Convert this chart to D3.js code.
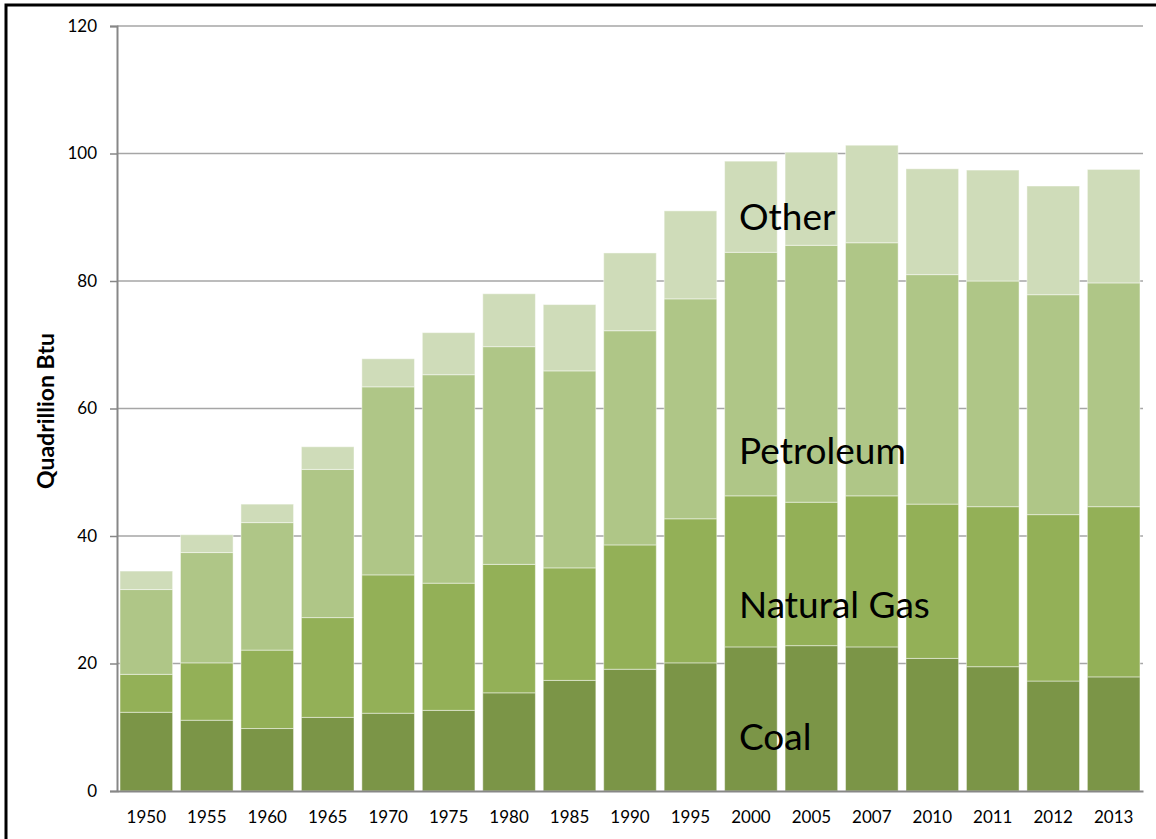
<!DOCTYPE html>
<html>
<head>
<meta charset="utf-8">
<script src="https://cdn.jsdelivr.net/npm/d3@7"></script>
<style>
body{margin:0;background:#fff;}
svg{display:block;font-family:Lato,"Open Sans",sans-serif;}
</style>
</head>
<body>
<svg id="chart" width="1156" height="839"></svg>
<script>
// years and the four fuel series (quadrillion Btu)
let years=["1950","1955","1960","1965","1970","1975","1980","1985","1990","1995","2000","2005","2007","2010","2011","2012","2013"];
let coal=[12.35,11.1,9.8,11.55,12.2,12.65,15.4,17.35,19.1,20.1,22.6,22.8,22.6,20.8,19.5,17.25,17.9];
let natGas=[5.95,9.0,12.3,15.65,21.7,19.95,20.15,17.65,19.5,22.6,23.7,22.5,23.7,24.2,25.1,26.1,26.7];
let petroleum=[13.3,17.3,20.0,23.25,29.5,32.7,34.15,30.9,33.6,34.5,38.2,40.3,39.7,36.0,35.4,34.5,35.1];
let other=[2.9,2.8,2.9,3.55,4.4,6.6,8.3,10.4,12.2,13.8,14.3,14.6,15.3,16.6,17.4,17.05,17.8];
let yTicks=[0,20,40,60,80,100,120];
let keys=["Coal","Natural Gas","Petroleum","Other"];
let cols=["#7b9547","#93b057","#afc687","#cfdcb9"];

let rows=years.map((y,i)=>({year:y,"Coal":coal[i],"Natural Gas":natGas[i],"Petroleum":petroleum[i],"Other":other[i]}));

let svg=d3.select("#chart");
let W=1156,H=839;
let m={l:117,r:13,t:26,b:48};

// frame, cut off at right and bottom like the screenshot
svg.append("rect").attr("x",6).attr("y",5).attr("width",W+20).attr("height",H+20)
  .attr("fill","none").attr("stroke","#000").attr("stroke-width",3);

let x=d3.scaleBand().domain(years).range([m.l,W-m.r]).paddingInner(0.13).paddingOuter(0.05);
let y=d3.scaleLinear().domain([0,120]).range([H-m.b,m.t]);

// gridlines
svg.append("g").selectAll("line").data(yTicks.filter(d=>d>0)).enter().append("line")
  .attr("x1",m.l).attr("x2",W-m.r).attr("y1",d=>y(d)).attr("y2",d=>y(d))
  .attr("stroke","#a6a6a6").attr("stroke-width",1.5);

let stacked=d3.stack().keys(keys)(rows);

svg.append("g").selectAll("g").data(stacked).enter().append("g")
  .attr("fill",(d,i)=>cols[i])
  .selectAll("rect").data(d=>d).enter().append("rect")
  .attr("x",d=>x(d.data.year)).attr("width",x.bandwidth())
  .attr("y",d=>y(d[1])).attr("height",d=>y(d[0])-y(d[1]))
  .attr("stroke","#ffffff").attr("stroke-opacity",0.45).attr("stroke-width",1);

// y axis
let yAxis=d3.axisLeft(y).tickValues(yTicks).tickSize(7).tickPadding(13).tickFormat(d3.format("d"));
let ga=svg.append("g").attr("transform","translate("+m.l+",0)").call(yAxis)
  .attr("font-size",17).attr("font-family","Lato");
ga.select(".domain").attr("stroke","#878787").attr("stroke-width",2);
ga.selectAll(".tick line").attr("stroke","#878787").attr("stroke-width",1.5);
ga.selectAll("text").attr("fill","#000");

// x axis
let xAxis=d3.axisBottom(x).tickSize(0).tickPadding(20);
let gx=svg.append("g").attr("transform","translate(0,"+(H-m.b)+")").call(xAxis)
  .attr("font-size",17).attr("font-family","Lato");
gx.select(".domain").attr("stroke","#878787").attr("stroke-width",2);
gx.selectAll("text").attr("fill","#000");

// axis title
svg.append("text").text("Quadrillion Btu")
  .attr("transform","translate(54,411) rotate(-90)")
  .attr("text-anchor","middle").attr("font-size",23).attr("font-weight","bold")
  .attr("font-family","Lato").attr("fill","#000");

// series labels inside the chart
let labs=[["Other",230],["Petroleum",464],["Natural Gas",618],["Coal",750]];
svg.append("g").selectAll("text").data(labs).enter().append("text")
  .text(d=>d[0]).attr("x",739).attr("y",d=>d[1])
  .attr("font-size",37).attr("font-family","Lato").attr("fill","#000");
</script>
</body>
</html>
